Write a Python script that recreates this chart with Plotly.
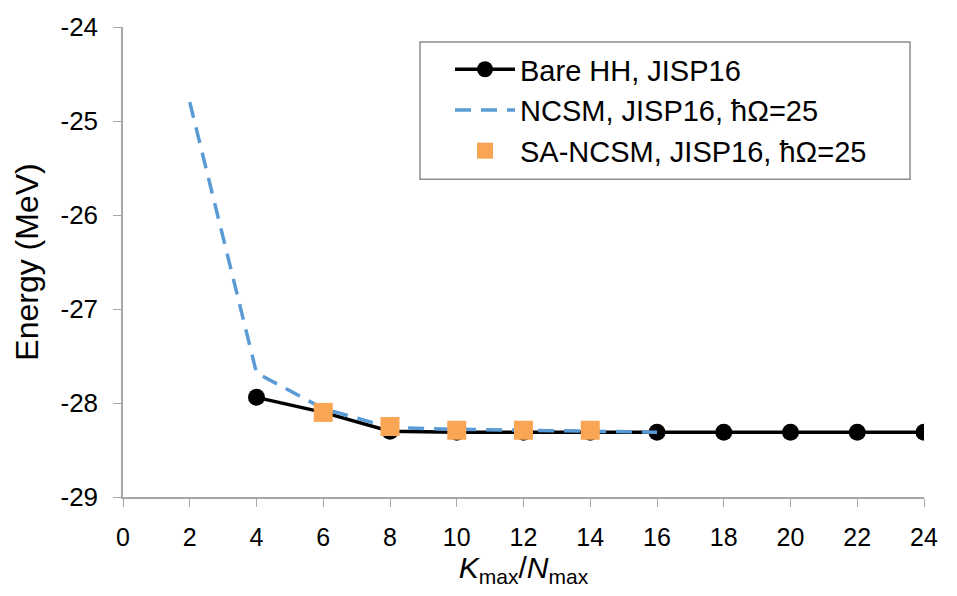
import plotly.graph_objects as go

bare_x = [4, 6, 8, 10, 12, 14, 16, 18, 20, 22, 24]
bare_y = [-27.94, -28.10, -28.30, -28.31, -28.31, -28.31, -28.31, -28.31, -28.31, -28.31, -28.31]
ncsm_x = [2, 4, 6, 8, 10, 12, 14, 16]
ncsm_y = [-24.80, -27.68, -28.06, -28.26, -28.28, -28.29, -28.30, -28.31]
sa_x = [6, 8, 10, 12, 14]
sa_y = [-28.10, -28.25, -28.29, -28.29, -28.29]
x_ticks = list(range(0, 25, 2))
y_ticks = [-29, -28, -27, -26, -25, -24]
y_tick_labels = ["-29", "-28", "-27", "-26", "-25", "-24"]

fig = go.Figure()
fig.add_trace(go.Scatter(x=bare_x, y=bare_y, mode="lines+markers", name="Bare HH, JISP16",
                         line=dict(color="black", width=3.5),
                         marker=dict(symbol="circle", size=17, color="black")))
fig.add_trace(go.Scatter(x=ncsm_x, y=ncsm_y, mode="lines", name="NCSM, JISP16, ħΩ=25",
                         line=dict(color="#5b9bd5", width=3.5, dash="16px,10px")))
fig.add_trace(go.Scatter(x=sa_x, y=sa_y, mode="markers", name="SA-NCSM, JISP16, ħΩ=25",
                         marker=dict(symbol="square", size=19, color="#f8a654")))

# legend frame (reference frame is wider than its contents)
fig.add_shape(type="rect", xref="paper", yref="paper",
              x0=(420 - 123) / 801, x1=(910 - 123) / 801,
              y0=(497 - 178) / 472, y1=(497 - 40) / 472,
              line=dict(color="#8c8c8c", width=1.5), layer="above")

fig.update_layout(
    width=957, height=596,
    margin=dict(l=123, r=33, t=25, b=99),
    plot_bgcolor="white", paper_bgcolor="white",
    font=dict(family="Liberation Sans, Arial, sans-serif", size=22, color="black"),
    showlegend=True,
    legend=dict(x=(450 - 123) / 801, y=(497 - 42) / 472, xanchor="left", yanchor="top",
                borderwidth=0, bgcolor="rgba(0,0,0,0)",
                font=dict(size=29), itemwidth=60),
    xaxis=dict(range=[0, 24], tickvals=x_ticks, showgrid=False, zeroline=False,
               showline=True, linecolor="#a6a6a6", linewidth=1.5,
               ticks="outside", ticklen=8, tickcolor="#a6a6a6",
               tickfont=dict(size=25), ticklabelstandoff=9,
               title=dict(text="<i>K</i><sub>max</sub>/<i>N</i><sub>max</sub>",
                          font=dict(size=30), standoff=6)),
    yaxis=dict(range=[-29, -24], tickvals=y_ticks, ticktext=y_tick_labels,
               showgrid=False, zeroline=False,
               showline=True, linecolor="#a6a6a6", linewidth=1.5,
               ticks="outside", ticklen=8, tickcolor="#a6a6a6",
               tickfont=dict(size=26), ticklabelstandoff=10,
               title=dict(text="Energy (MeV)", font=dict(size=32), standoff=12)),
)

fig.write_html("out.html")
